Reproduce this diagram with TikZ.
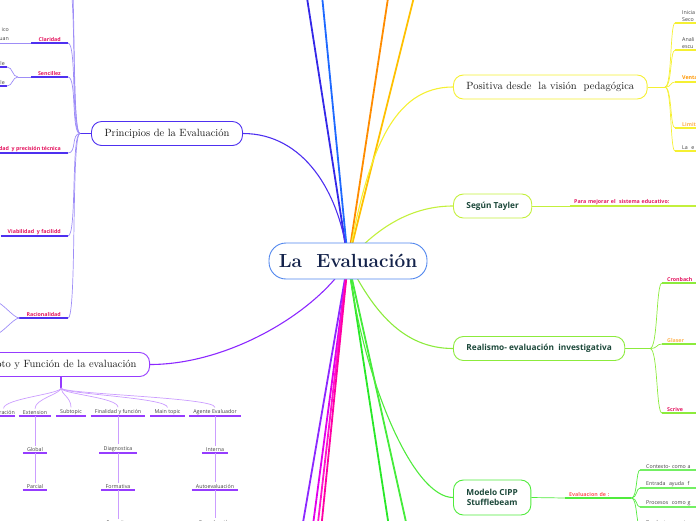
\documentclass[tikz,border=0pt]{standalone}
\usepackage{fontspec}
\newfontfamily\osans{Open Sans}
\usetikzlibrary{backgrounds}

\definecolor{rootC}{RGB}{80,134,238}
\definecolor{navyT}{RGB}{20,35,75}
\definecolor{tealT}{RGB}{28,72,58}
\definecolor{prinC}{RGB}{78,48,240}
\definecolor{funC}{RGB}{150,60,255}
\definecolor{posC}{RGB}{245,240,50}
\definecolor{tayC}{RGB}{195,240,60}
\definecolor{realC}{RGB}{140,235,60}
\definecolor{cippC}{RGB}{80,235,60}
\definecolor{hotPink}{RGB}{228,22,96}
\definecolor{softOrange}{RGB}{255,178,80}
\definecolor{deepOrange}{RGB}{255,150,0}
\definecolor{salmonT}{RGB}{255,88,88}
\definecolor{blueA}{RGB}{52,40,232}
\definecolor{blueB}{RGB}{30,105,255}
\definecolor{orangeA}{RGB}{255,140,0}
\definecolor{goldA}{RGB}{255,192,0}
\definecolor{violetA}{RGB}{140,40,255}
\definecolor{magA}{RGB}{225,0,235}
\definecolor{magB}{RGB}{255,20,205}
\definecolor{magC}{RGB}{255,0,165}
\definecolor{greenA}{RGB}{40,232,40}
\definecolor{greenB}{RGB}{70,236,60}

\newcommand\serifT{\fontsize{10.5}{12.5}\selectfont}
\newcommand\tinyT{\fontsize{5.3}{6.6}\selectfont}

\tikzset{
  rootnode/.style = {draw=rootC, line width=0.9pt, fill=white, rounded corners=17pt,
                     minimum width=158pt, minimum height=36pt, text=navyT,
                     font=\fontsize{19}{22}\selectfont\bfseries},
  topic/.style    = {draw=#1, line width=0.9pt, fill=white, rounded corners=10pt,
                     inner xsep=13pt, minimum height=24pt, text=black!90, font=\serifT},
  sftopic/.style  = {topic=#1, text=tealT, font=\osans\bfseries\fontsize{8.3}{10.5}\selectfont},
  leaf/.style     = {font=\osans\tinyT, text=black!75, inner xsep=4pt, inner ysep=1.5pt},
  tag/.style      = {font=\osans\bfseries\tinyT, text=#1, inner xsep=4pt, inner ysep=1.5pt},
  edgeleaf/.style = {text width=75pt, align=left},
  uline/.style    = {draw=#1, line width=1.5pt},
  link/.style     = {draw=#1, line width=0.7pt},
  trunk/.style    = {draw=#1, line width=1.8pt},
  branch/.style   = {draw=#1, line width=1.1pt}
}

\begin{document}
\begin{tikzpicture}[x=1pt,y=-1pt]
  \useasboundingbox (0,0) rectangle (696,520);

  % central topic and main topics
  \node[rootnode] (root) at (348,261) {La\ \ Evaluación};
  \node[topic=prinC] (princ) at (167,133.5) {Principios de la Evaluación};
  \node[topic=funC, anchor=east] (funda) at (150,364.5) {Concepto y Función de la evaluación};
  \node[topic=posC, anchor=west] (posi) at (453,87) {Positiva desde \ la visión \ pedagógica};
  \node[sftopic=tayC, anchor=west] (tayl) at (453,206) {Según Tayler};
  \node[sftopic=realC, anchor=west] (real) at (453,348.5) {Realismo- evaluación \ investigativa};
  \node[sftopic=cippC, anchor=west, align=center, minimum height=35pt] (cipp) at (453,497.5) {Modelo CIPP\\Stufflebeam};

  % ends of the branches that leave the picture
  \coordinate (t1) at (305,-15);
  \coordinate (t2) at (321,-15);
  \coordinate (t3) at (390,-15);
  \coordinate (t4) at (417,-15);
  \coordinate (b1) at (300,540);
  \coordinate (b2) at (311,540);
  \coordinate (b3) at (316,540);
  \coordinate (b4) at (320,540);
  \coordinate (b5) at (391,540);
  \coordinate (b6) at (410,540);

  \begin{scope}[on background layer]
    \foreach \c/\col in {t1/blueA, t2/blueB, t3/orangeA, t4/goldA, b1/violetA,
                         b2/magA, b3/magB, b4/magC, b5/greenA, b6/greenB}
      \draw[trunk=\col] (root.center) -- (\c);
    \draw[branch=prinC] (root.center) .. controls +(-8,-70) and +(60,0) .. (princ.east);
    \draw[branch=violetA] (root.center) .. controls +(-30,50) and +(80,0) .. (funda.east);
    \draw[branch=posC] (root.center) .. controls +(20,-110) and +(-60,0) .. (posi.west);
    \draw[branch=tayC] (root.center) .. controls +(30,-35) and +(-40,0) .. (tayl.west);
    \draw[branch=realC] (root.center) .. controls +(25,50) and +(-50,0) .. (real.west);
    \draw[branch=cippC] (root.center) .. controls +(15,120) and +(-40,0) .. (cipp.west);
  \end{scope}

  % -- Principios --
  \coordinate (pfk) at (80,133.5);
  \coordinate (pu1) at (68,-20);
  \coordinate (pu2) at (68,-50);
  \node[tag=hotPink, inner xsep=7pt, anchor=south east] (cla) at (68,43) {Claridad};
  \node[tag=hotPink, inner xsep=7pt, anchor=south east] (sen) at (68,77) {Sencillez};
  \node[tag=hotPink, inner xsep=7pt, anchor=south east] (pre) at (68,153) {Confiabilidad \ y precisión técnica};
  \node[tag=hotPink, inner xsep=7pt, anchor=south east] (via) at (68,236) {Viabilidad \ y facilidd};
  \node[tag=hotPink, inner xsep=7pt, anchor=south east] (rac) at (68,318) {Racionalidad};
  \draw[uline=prinC] (princ.west) -- (pfk);
  \foreach \n in {cla,sen,pre,via,rac}{
    \draw[uline=prinC] (\n.south west) -- (\n.south east);
    \draw[link=prinC!55] (pfk) .. controls +(-9,0) and +(9,0) .. (\n.south east);
  }
  \foreach \n in {pu1,pu2}
    \draw[link=prinC!55] (pfk) .. controls +(-9,0) and +(9,0) .. (\n);

  \node[leaf, anchor=base east, inner xsep=0pt] (cl1) at (9,31) {ico};
  \node[leaf, anchor=base east, inner xsep=0pt] (cl2) at (9,40) {uan};
  \coordinate (clx) at (0,43);
  \draw[link=prinC!55] (cla.south west) -- (clx);

  \coordinate (sfk) at (18,77);
  \node[leaf, anchor=south east, inner xsep=2pt] (le1) at (7,67) {le};
  \node[leaf, anchor=south east, inner xsep=2pt] (le2) at (7,86) {le};
  \draw[link=prinC!55] (sen.south west) -- (sfk);
  \foreach \n in {le1,le2}{
    \draw[uline=prinC] (\n.south west) -- (\n.south east);
    \draw[link=prinC!55] (sfk) .. controls +(-6,0) and +(6,0) .. (\n.south east);
  }
  \coordinate (rc1) at (-4,302);
  \coordinate (rc2) at (-4,334);
  \foreach \n in {rc1,rc2}
    \draw[link=prinC!55] (rac.south west) .. controls +(-6,0) and +(6,0) .. (\n);

  % -- Concepto y Funcion --
  \coordinate (ffk) at (61,388);
  \node[leaf, anchor=south east, inner xsep=0pt] (dur) at (15,416) {Duración};
  \node[leaf, anchor=south] (ext) at (35,416) {Extension};
  \node[leaf, anchor=south] (sub) at (71,416) {Subtopic};
  \node[leaf, anchor=south] (fin) at (118,416) {Finalidad y función};
  \node[leaf, anchor=south] (mai) at (167.5,416) {Main topic};
  \node[leaf, anchor=south] (age) at (215,416) {Agente Evaluador};
  \draw[uline=funC] (funda.south -| ffk) -- (ffk);
  \foreach \n in {dur,ext,sub,fin,mai,age}{
    \draw[uline=funC] (\n.south west) -- (\n.south east);
    \draw[link=funC!50] (ffk) .. controls +(0,6) and +(0,-10) .. (\n.north);
  }
  \node[leaf, anchor=south] (glo) at (35,453) {Global};
  \node[leaf, anchor=south] (par) at (35,490) {Parcial};
  \node[leaf, anchor=south] (dia) at (118,453) {Diagnostica};
  \node[leaf, anchor=south] (frm) at (118,490) {Formativa};
  \node[leaf, anchor=south] (sum) at (118,526) {Sumativa};
  \node[leaf, anchor=south] (int) at (215,453) {Interna};
  \node[leaf, anchor=south] (aut) at (215,490) {Autoevaluación};
  \node[leaf, anchor=south] (coe) at (215,526) {Coevaluación};
  \foreach \n in {glo,par,dia,frm,sum,int,aut,coe}
    \draw[uline=funC] (\n.south west) -- (\n.south east);
  \foreach \a/\b in {ext/glo, glo/par, fin/dia, dia/frm, frm/sum, age/int, int/aut, aut/coe}
    \draw[link=funC!50] (\a.south) -- (\b.north);

  % -- Positiva --
  \coordinate (qfk) at (665,87);
  \node[leaf, edgeleaf, anchor=south west, inner xsep=7pt] (pa) at (675,23) {Inicia\\Seco};
  \node[leaf, edgeleaf, anchor=south west, inner xsep=7pt] (pb) at (675,50) {Anali\\escu};
  \node[tag=deepOrange, edgeleaf, anchor=south west, inner xsep=7pt] (pc) at (675,82) {Ventajas};
  \node[tag=softOrange, edgeleaf, anchor=south west, inner xsep=7pt] (pd) at (675,128) {Limitaciones};
  \node[leaf, edgeleaf, anchor=south west, inner xsep=7pt] (pe) at (675,151) {La \ e};
  \draw[link=posC] (posi.east) -- (qfk);
  \foreach \n in {pa,pb,pc,pd,pe}{
    \draw[uline=posC] (\n.south west) -- (\n.south east);
    \draw[link=posC] (qfk) .. controls +(7,0) and +(-5,0) .. (\n.south west);
  }

  % -- Tayler --
  \node[tag=hotPink, anchor=south west, text width=125pt] (pm) at (570,206) {Para mejorar el \ sistema educativo:};
  \draw[link=tayC] (tayl.east) -- (pm.south west);
  \draw[uline=tayC] (pm.south west) -- (pm.south east);

  % -- Realismo --
  \coordinate (rfk) at (650,348.5);
  \node[tag=hotPink, edgeleaf, anchor=south west, inner xsep=5pt] (cro) at (662,283) {Cronbach};
  \node[tag=softOrange, edgeleaf, anchor=south west, inner xsep=5pt] (gla) at (662,344) {Glaser};
  \node[tag=hotPink, edgeleaf, anchor=south west, inner xsep=5pt] (scr) at (662,413) {Scrive};
  \draw[link=realC] (real.east) -- (rfk);
  \foreach \n in {cro,gla,scr}{
    \draw[uline=realC] (\n.south west) -- (\n.south east);
    \draw[link=realC] (rfk) .. controls +(8,0) and +(-6,0) .. (\n.south west);
  }

  % -- CIPP --
  \node[tag=salmonT, anchor=south west, text width=58pt] (eva) at (565,498) {Evaluacion de :};
  \draw[link=cippC] (cipp.east) -- (eva.south west);
  \draw[uline=cippC] (eva.south west) -- (eva.south east);
  \node[leaf, edgeleaf, anchor=south west, inner xsep=6pt] (ctx) at (640,470) {Contexto- como a};
  \node[leaf, edgeleaf, anchor=south west, inner xsep=6pt] (ent) at (640,488) {Entrada \ ayuda \ f};
  \node[leaf, edgeleaf, anchor=south west, inner xsep=6pt] (pro) at (640,507) {Procesos \ como g};
  \node[leaf, edgeleaf, anchor=south west, inner xsep=6pt] (prd) at (640,526) {Producto \ consi};
  \foreach \n in {ctx,ent,pro,prd}{
    \draw[uline=cippC!80] (\n.south west) -- (\n.south east);
    \draw[link=cippC] (eva.south east) .. controls +(6,0) and +(-4,0) .. (\n.south west);
  }
\end{tikzpicture}
\end{document}
